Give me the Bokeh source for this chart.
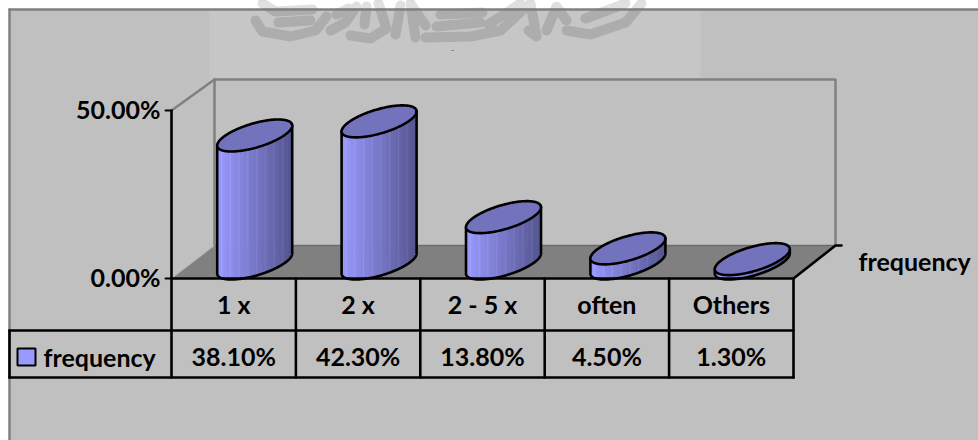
from bokeh.embed import file_html
from bokeh.models import Range1d
from bokeh.plotting import figure
from bokeh.resources import INLINE
from bokeh.core.properties import value
import numpy as np

# Survey data
categories = ["1 x", "2 x", "2 - 5 x", "often", "Others"]
frequency = [38.10, 42.30, 13.80, 4.50, 1.30]
series_name = "frequency"
axis_ticks = [0, 50]

W, H = 978, 440
CELL = 124.4           # pixels per category
FIRST_LEFT = 171       # left edge of the first category cell
ZERO_Y = 278           # pixel row of the 0 % line
PCT = 168 / 50         # pixels per percentage point
DEPTH_X, DEPTH_Y = 43, 33
FONT = value("Lato")

# Cylinder footprint: half extents and covariance of the tilted ellipse
XE, YE, XY = 37.5, 16.0, 375.0
BASE_DX, BASE_DY = 21.0, 15.0

x_min = -0.5 - FIRST_LEFT / CELL
p = figure(width=W, height=H, output_backend="svg", toolbar_location=None,
           x_range=Range1d(x_min, x_min + W / CELL),
           y_range=Range1d(-(H - ZERO_Y) / PCT, ZERO_Y / PCT),
           min_border=0, outline_line_color=None,
           background_fill_color="#ffffff", border_fill_color="#ffffff")
p.axis.visible = False
p.grid.visible = False


def X(px):
    return x_min + np.asarray(px, dtype=float) / CELL


def Y(py):
    return (ZERO_Y - np.asarray(py, dtype=float)) / PCT


def box(x0, y0, x1, y1, color):
    p.patch(X([x0, x1, x1, x0]), Y([y0, y0, y1, y1]), fill_color=color, line_color=None)


def seg(xs, ys, color="#000000", width=2.6, alpha=1.0):
    p.line(X(xs), Y(ys), line_color=color, line_width=width, line_alpha=alpha,
           line_cap="round", line_join="round")


# Chart area
box(9, 9, W, H, "#c0c0c0")
box(209, 10, 700, 79, "#c6c6c6")

# Faint calligraphic emblem behind the top edge
emblem = [
    [(255, 20), (262, 31), (290, 36), (315, 30), (326, 16)],
    [(262, 3), (275, 11), (312, 9)],
    [(278, 22), (310, 20)],
    [(330, 30), (345, 22), (356, 6)],
    [(336, 14), (348, 8)],
    [(350, 35), (370, 38), (386, 28), (378, 3)],
    [(364, 24), (366, 6)],
    [(395, 34), (400, 5)],
    [(415, 37), (410, 3), (425, 25)],
    [(425, 37), (470, 36), (500, 30), (526, 6)],
    [(436, 26), (480, 22)],
    [(440, 14), (482, 12)],
    [(488, 24), (520, 3)],
    [(528, 30), (536, 36), (530, 3)],
    [(546, 30), (556, 6), (566, 20)],
    [(566, 30), (590, 34), (625, 22), (641, 3)],
    [(585, 18), (625, 3)],
]
for stroke in emblem:
    xs, ys = zip(*stroke)
    seg(xs, ys, color="#adadad", width=10)
box(240, 0, 660, 8, "#ffffffa0")
seg([451, 453], [50, 50], color="#8a8a8a", width=1)

# Outer chart border
seg([9, W], [9, 9], color="#808080", width=2.5)
seg([9, 9], [9, H], color="#808080", width=2.5)

# 3-D box: floor, back wall and side wall
right = FIRST_LEFT + CELL * len(categories)
top = ZERO_Y - PCT * axis_ticks[-1]
p.patch(X([FIRST_LEFT, right, right + DEPTH_X, FIRST_LEFT + DEPTH_X]),
        Y([ZERO_Y, ZERO_Y, ZERO_Y - DEPTH_Y, ZERO_Y - DEPTH_Y]),
        fill_color="#808080", line_color=None)
bx0, bx1 = FIRST_LEFT + DEPTH_X, right + DEPTH_X - 1
seg([bx0, bx0, bx1, bx1], [ZERO_Y - DEPTH_Y, top - DEPTH_Y + 2, top - DEPTH_Y + 2, ZERO_Y - DEPTH_Y], "#808080", 2.5)
seg([bx0, bx1], [ZERO_Y - DEPTH_Y, ZERO_Y - DEPTH_Y], "#6c6c6c", 1.5)
seg([FIRST_LEFT, bx0], [top, top - DEPTH_Y + 2], "#808080", 2.5)
seg([FIRST_LEFT, bx0], [ZERO_Y, ZERO_Y - DEPTH_Y], "#b0b0b0", 1)


def lerp_color(t, lift=0):
    a, b = np.array([0x9a, 0x9a, 0xff]), np.array([0x55, 0x55, 0x90])
    c = np.clip((a + (b - a) * t).astype(int) + lift, 0, 255)
    return "#%02x%02x%02x" % tuple(c)


def arc(dx, sign):
    """Screen-up offset of the ellipse edge at horizontal offset dx."""
    root = np.sqrt(np.clip((YE**2 - XY**2 / XE**2) * (1 - dx**2 / XE**2), 0, None))
    return XY / XE**2 * dx + sign * root


# Cylinders, built from narrow shaded strips plus outline and lid
edges = np.linspace(-XE, XE, 61)
fine = XE * np.sin(np.linspace(-np.pi / 2, np.pi / 2, 121))
for i, v in enumerate(frequency):
    cx = FIRST_LEFT + CELL * (i + 0.5) + BASE_DX
    base_y = ZERO_Y - BASE_DY
    top_y = base_y - v * PCT
    for k in range(len(edges) - 1):
        d = np.clip(np.linspace(edges[k], edges[k + 1] + 0.6, 4), -XE, XE)
        low = arc(d, -1)
        xs = np.concatenate([cx + d, cx + d[::-1]])
        ys = np.concatenate([base_y - low, top_y - low[::-1]])
        lift = 10 if k % 7 == 3 else 0
        p.patch(X(xs), Y(ys), fill_color=lerp_color(k / (len(edges) - 2), lift), line_color=None)
    seg(np.concatenate([[cx - XE], cx + fine, [cx + XE]]),
        np.concatenate([[top_y - arc(np.array([-XE]), -1)[0]], base_y - arc(fine, -1),
                        [top_y - arc(np.array([XE]), -1)[0]]]))
    ring_x = np.concatenate([cx + fine, cx + fine[::-1]])
    ring_y = np.concatenate([top_y - arc(fine, -1), top_y - arc(fine[::-1], 1)])
    p.patch(X(ring_x), Y(ring_y), fill_color="#7272bd", line_color="#000000", line_width=2.6)

# Data table grid
ROW1, ROW2 = 330, 377
seg([FIRST_LEFT, right], [ZERO_Y, ZERO_Y])
seg([9, right], [ROW1, ROW1])
seg([9, right], [ROW2, ROW2])
seg([9, 9], [ROW1, ROW2])
for i in range(len(categories) + 1):
    gx = FIRST_LEFT + CELL * i
    seg([gx, gx], [ZERO_Y, ROW2])

# Value axis with its ticks, and the depth axis tick
seg([FIRST_LEFT, FIRST_LEFT], [top, ZERO_Y])
for t in axis_ticks:
    ty = ZERO_Y - t * PCT
    seg([FIRST_LEFT - 6, FIRST_LEFT], [ty, ty], width=2)
seg([right, right + DEPTH_X - 1, right + DEPTH_X + 5], [ZERO_Y, ZERO_Y - DEPTH_Y, ZERO_Y - DEPTH_Y])

text_style = dict(text_font=FONT, text_font_style="bold", text_font_size="25px",
                  text_color="#000000", text_baseline="middle")
p.text(X([160, 160]), Y(ZERO_Y - np.array(axis_ticks) * PCT - 1.5), text=[f"{t:.2f}%" for t in axis_ticks],
       text_align="right", **text_style)
cell_x = list(range(len(categories)))
p.text(cell_x, Y([303] * len(cell_x)), text=categories, text_align="center", **text_style)
p.text(cell_x, Y([355.5] * len(cell_x)), text=[f"{v:.2f}%" for v in frequency],
       text_align="center", **text_style)
p.text(X([43]), Y([356.5]), text=[series_name], text_align="left", **text_style)
p.text(X([858]), Y([260]), text=[series_name], text_align="left", **text_style)

# Legend key in the table
p.patch(X([17, 35, 35, 17]), Y([348, 348, 365, 365]), fill_color="#9999ff",
        line_color="#000000", line_width=2)

open("out.html", "w").write(file_html(p, INLINE))
